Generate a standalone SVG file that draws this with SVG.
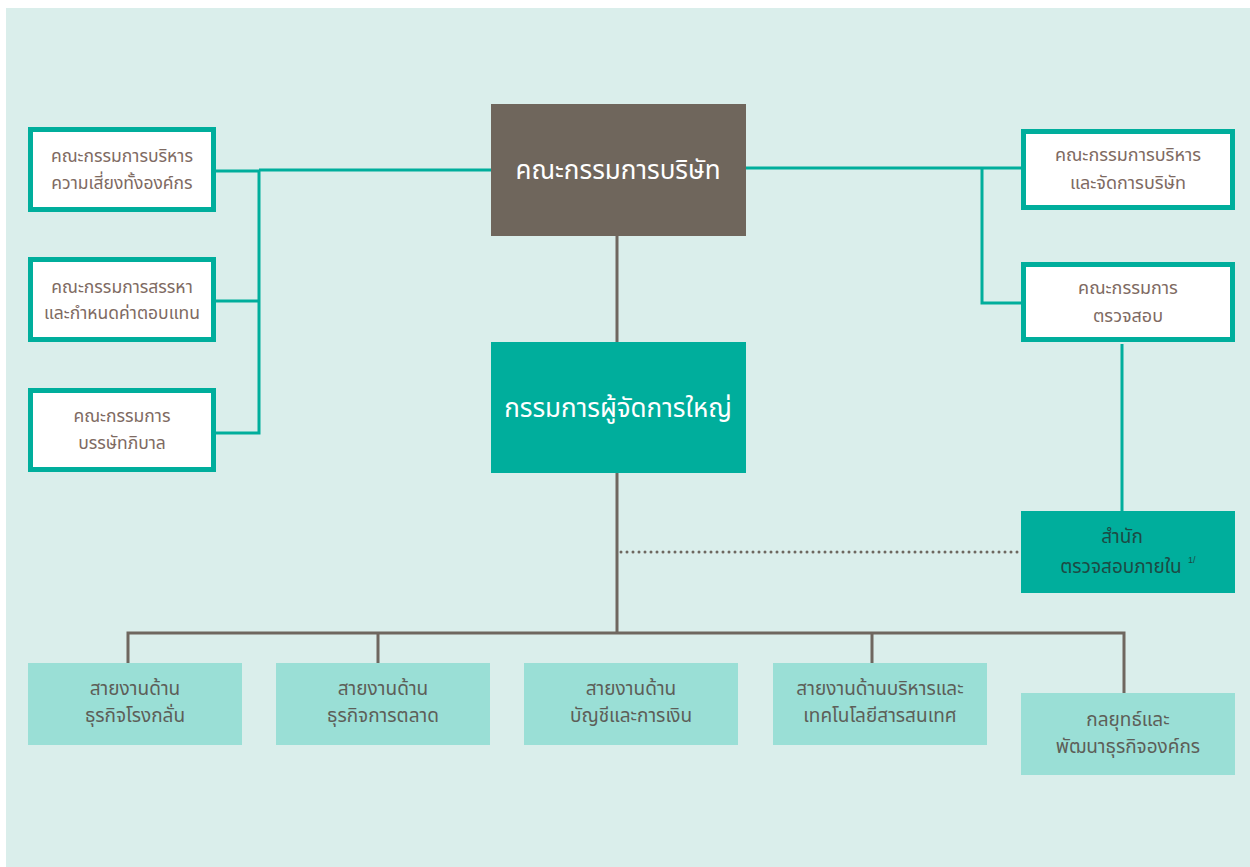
<svg xmlns="http://www.w3.org/2000/svg" width="1250" height="867" viewBox="0 0 1250 867">
<style>
.t{font-family:"Noto Sans Thai","Noto Sans","DejaVu Sans",sans-serif;text-anchor:middle}
.wb{fill:#ffffff;stroke:#00ae9c;stroke-width:5}
.lb{fill:#9adfd6}
.ct{fill:none;stroke:#00ae9c;stroke-width:3}
.cg{fill:none;stroke:#6e675f;stroke-width:3}
.s1{font-size:17.5px;fill:#7e6a62}
.s3{font-size:18px;fill:#7e6a62}
.s2{font-size:19px;fill:#5d5e58}
</style>
<rect x="0" y="0" width="1250" height="867" fill="#ffffff"/>
<rect x="6" y="8" width="1244" height="859" fill="#daeeeb"/>
<g id="connectors">
<polyline class="ct" points="216,171 259,171 259,433 216,433"/>
<line class="ct" x1="216" y1="301" x2="259" y2="301"/>
<line class="ct" x1="259" y1="170" x2="491" y2="170"/>
<line class="ct" x1="746" y1="168" x2="1021" y2="168"/>
<polyline class="ct" points="982,168 982,303 1021,303"/>
<line class="ct" x1="1122" y1="344" x2="1122" y2="511"/>
<line class="cg" x1="617" y1="236" x2="617" y2="342"/>
<line class="cg" x1="617" y1="473" x2="617" y2="633"/>
<polyline class="cg" points="128,663 128,633 1124,633 1124,693"/>
<line class="cg" x1="378" y1="633" x2="378" y2="663"/>
<line class="cg" x1="872" y1="633" x2="872" y2="663"/>
<line x1="621" y1="552" x2="1021" y2="552" stroke="#6e675f" stroke-width="3" stroke-dasharray="0 6" stroke-linecap="round"/>
</g>
<g id="board">
<rect x="491" y="104" width="255" height="132" fill="#6f665c"/>
<text class="t" x="618" y="179" font-size="26" fill="#ffffff">คณะกรรมการบริษัท</text>
</g>
<g id="ceo">
<rect x="491" y="342" width="255" height="131" fill="#00ae9c"/>
<text class="t" x="618" y="417" font-size="26" fill="#ffffff">กรรมการผู้จัดการใหญ่</text>
</g>
<g id="risk">
<rect class="wb" x="30.5" y="129.5" width="183" height="80"/>
<text class="t s1" x="122" y="162">คณะกรรมการบริหาร</text>
<text class="t s1" x="122" y="189">ความเสี่ยงทั้งองค์กร</text>
</g>
<g id="nomination">
<rect class="wb" x="30.5" y="259.5" width="183" height="80"/>
<text class="t s1" x="122" y="293">คณะกรรมการสรรหา</text>
<text class="t s1" x="122" y="319">และกำหนดค่าตอบแทน</text>
</g>
<g id="governance">
<rect class="wb" x="30.5" y="390.5" width="183" height="79"/>
<text class="t s1" x="122" y="422">คณะกรรมการ</text>
<text class="t s1" x="122" y="449">บรรษัทภิบาล</text>
</g>
<g id="executive">
<rect class="wb" x="1023.5" y="131.5" width="209" height="76"/>
<text class="t s3" x="1128" y="161">คณะกรรมการบริหาร</text>
<text class="t s3" x="1128" y="189">และจัดการบริษัท</text>
</g>
<g id="audit">
<rect class="wb" x="1023.5" y="264.5" width="209" height="75"/>
<text class="t s3" x="1128" y="294">คณะกรรมการ</text>
<text class="t s3" x="1128" y="322">ตรวจสอบ</text>
</g>
<g id="internal-audit">
<rect x="1021" y="511" width="214" height="82" fill="#00ae9c"/>
<text class="t" x="1122" y="543" font-size="19" fill="#1d4a44">สำนัก</text>
<text class="t" x="1121" y="573" font-size="19" fill="#1d4a44">ตรวจสอบภายใน</text>
<text x="1188" y="563" font-size="9" fill="#1d4a44" font-family="Liberation Sans,sans-serif">1/</text>
</g>
<g id="refinery">
<rect class="lb" x="28" y="663" width="214" height="82"/>
<text class="t s2" x="135" y="695">สายงานด้าน</text>
<text class="t s2" x="135" y="722">ธุรกิจโรงกลั่น</text>
</g>
<g id="marketing">
<rect class="lb" x="276" y="663" width="214" height="82"/>
<text class="t s2" x="383" y="695">สายงานด้าน</text>
<text class="t s2" x="383" y="722">ธุรกิจการตลาด</text>
</g>
<g id="finance">
<rect class="lb" x="524" y="663" width="214" height="82"/>
<text class="t s2" x="631" y="695">สายงานด้าน</text>
<text class="t s2" x="631" y="722">บัญชีและการเงิน</text>
</g>
<g id="it">
<rect class="lb" x="773" y="663" width="214" height="82"/>
<text class="t s2" x="880" y="695">สายงานด้านบริหารและ</text>
<text class="t s2" x="880" y="722">เทคโนโลยีสารสนเทศ</text>
</g>
<g id="strategy">
<rect class="lb" x="1021" y="693" width="214" height="82"/>
<text class="t s2" x="1128" y="726">กลยุทธ์และ</text>
<text class="t s2" x="1128" y="753">พัฒนาธุรกิจองค์กร</text>
</g>
</svg>
